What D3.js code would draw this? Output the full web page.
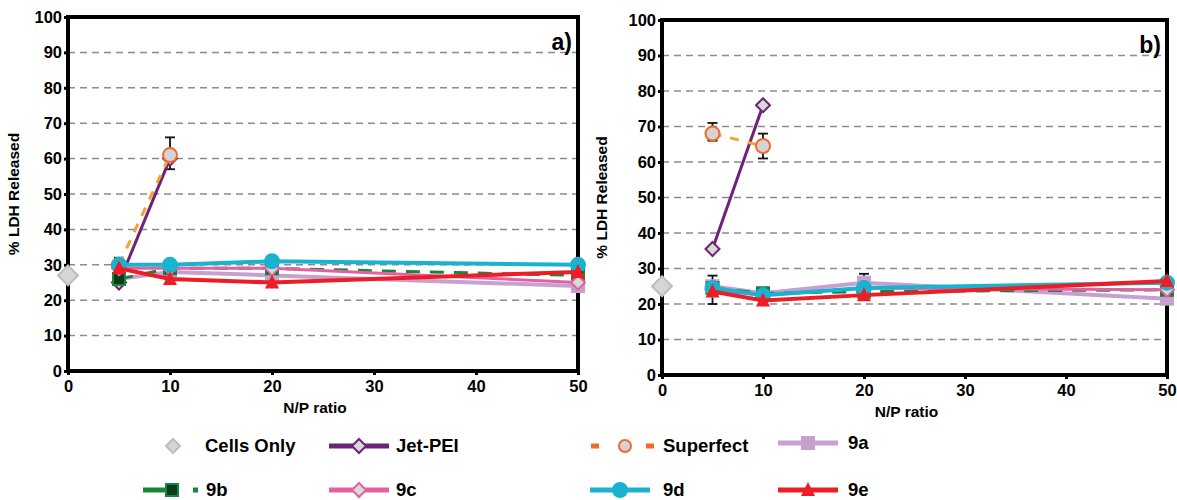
<!DOCTYPE html>
<html>
<head>
<meta charset="utf-8">
<script src="https://cdn.jsdelivr.net/npm/d3@7/dist/d3.min.js"></script>
<style>
  body { margin: 0; background: #fff; }
  text { font-family: "Liberation Sans", Arial, sans-serif; font-weight: bold; }
</style>
</head>
<body>
<svg id="chart" width="1177" height="500"></svg>
<script>
// x positions (N/P ratio)
var npAll = [5, 10, 20, 50];
var npShort = [5, 10];
var xTicks = [0, 10, 20, 30, 40, 50];
var yTicks = [0, 10, 20, 30, 40, 50, 60, 70, 80, 90, 100];

// panel a values (% LDH released)
var cellsA = 27;
var jetA = [25, 60];
var superA = [30, 61];
var s9aA = [26, 28, 27, 24];
var s9bA = [26, 29, 29, 27];
var s9cA = [29, 29, 29, 25];
var s9dA = [30, 30, 31, 30];
var s9eA = [29, 26, 25, 28];
var errA = [{x: 5, lo: 26, hi: 32}, {x: 10, lo: 57, hi: 66}];

// panel b values
var cellsB = 25;
var jetB = [35.5, 76];
var superB = [68, 64.5];
var s9aB = [25, 23, 26, 21.5];
var s9bB = [24.5, 23, 23.5, 24];
var s9cB = [24, 22.5, 24.5, 24];
var s9dB = [24.5, 22.5, 24.5, 26];
var s9eB = [23.5, 21, 22.5, 26.5];
var errB = [{x: 5, lo: 20, hi: 28}, {x: 20, lo: 24, hi: 28.5},
            {x: 5, lo: 66, hi: 71}, {x: 10, lo: 61, hi: 68}];

var styles = {
  cells: {color: "#bdbdbd", fill: "#d6d6d6", shape: "diamond"},
  jet:   {color: "#6e2277", fill: "#d9d9d9", shape: "diamond", width: 3},
  sup:   {color: "#f06a2a", fill: "#d4d4d4", shape: "circle", width: 3, dash: "9,9", line: "#f7a133"},
  a9:    {color: "#c7a0cf", fill: "#c7a0cf", shape: "square", width: 4},
  b9:    {color: "#16873a", fill: "#0c3a1c", shape: "square", width: 3, dash: "14,10"},
  c9:    {color: "#e5609f", fill: "#d9d9d9", shape: "diamond", width: 3},
  d9:    {color: "#1ab3cf", fill: "#1ab3cf", shape: "circle", width: 4},
  e9:    {color: "#ee1c25", fill: "#ee1c25", shape: "triangle", width: 4}
};

var svg = d3.select("#chart");

function marker(g, st, cx, cy, size) {
  var s = size || 7;
  if (st.shape === "diamond") {
    g.append("path").attr("d", "M" + cx + "," + (cy - s) + "L" + (cx + s) + "," + cy + "L" + cx + "," + (cy + s) + "L" + (cx - s) + "," + cy + "Z")
      .attr("fill", st.fill).attr("stroke", st.color).attr("stroke-width", 2);
  } else if (st.shape === "circle") {
    g.append("circle").attr("cx", cx).attr("cy", cy).attr("r", s)
      .attr("fill", st.fill).attr("stroke", st.color).attr("stroke-width", 2);
  } else if (st.shape === "square") {
    g.append("rect").attr("x", cx - s + 1).attr("y", cy - s + 1).attr("width", 2 * s - 2).attr("height", 2 * s - 2)
      .attr("fill", st.fill).attr("stroke", st.color).attr("stroke-width", 2);
  } else if (st.shape === "triangle") {
    g.append("path").attr("d", "M" + cx + "," + (cy - s - 1) + "L" + (cx + s) + "," + (cy + s - 1) + "L" + (cx - s) + "," + (cy + s - 1) + "Z")
      .attr("fill", st.fill);
  }
}

function panel(opt) {
  var x = d3.scaleLinear().domain([0, 50]).range([opt.left, opt.right]);
  var y = d3.scaleLinear().domain([0, 100]).range([opt.bottom, opt.top]);
  var g = svg.append("g");

  // dashed grid
  g.selectAll(".grid").data(yTicks.filter(function(d){ return d > 0 && d < 100; }))
    .enter().append("line")
    .attr("x1", opt.left).attr("x2", opt.right)
    .attr("y1", function(d){ return y(d); }).attr("y2", function(d){ return y(d); })
    .attr("stroke", "#8c8c8c").attr("stroke-width", 1.5).attr("stroke-dasharray", "7,5");

  // axes
  var yAxis = g.append("g").attr("transform", "translate(" + opt.left + ",0)")
    .call(d3.axisLeft(y).tickValues(yTicks).tickSize(4).tickPadding(2));
  var xAxis = g.append("g").attr("transform", "translate(0," + opt.bottom + ")")
    .call(d3.axisBottom(x).tickValues(xTicks).tickSize(4).tickPadding(5));
  [yAxis, xAxis].forEach(function(a){
    a.select(".domain").remove();
    a.selectAll(".tick line").attr("stroke", "#000").attr("stroke-width", 3);
    a.selectAll(".tick text").attr("font-size", 16.5).attr("fill", "#000")
      .style("font-family", "'Liberation Sans', Arial, sans-serif").style("font-weight", "bold");
  });

  // frame
  g.append("rect").attr("x", opt.left).attr("y", opt.top)
    .attr("width", opt.right - opt.left).attr("height", opt.bottom - opt.top)
    .attr("fill", "none").attr("stroke", "#000").attr("stroke-width", 4);

  // titles
  g.append("text").attr("x", (opt.left + opt.right) / 2 - 8).attr("y", opt.bottom + 42)
    .attr("text-anchor", "middle").attr("font-size", 15.5).text("N/P ratio");
  g.append("text").attr("transform", "translate(" + opt.ylab + "," + ((opt.top + opt.bottom) / 2) + ") rotate(-90)")
    .attr("text-anchor", "middle").attr("font-size", 15.5).text("% LDH Released");
  g.append("text").attr("x", opt.right - 6).attr("y", opt.top + 33)
    .attr("text-anchor", "end").attr("font-size", 23).text(opt.tag);

  var line = d3.line().x(function(d){ return x(d[0]); }).y(function(d){ return y(d[1]); });

  // error bars
  opt.err.forEach(function(e){
    var eg = g.append("g").attr("stroke", "#111").attr("stroke-width", 1.8);
    eg.append("line").attr("x1", x(e.x)).attr("x2", x(e.x)).attr("y1", y(e.lo)).attr("y2", y(e.hi));
    eg.append("line").attr("x1", x(e.x) - 5).attr("x2", x(e.x) + 5).attr("y1", y(e.lo)).attr("y2", y(e.lo));
    eg.append("line").attr("x1", x(e.x) - 5).attr("x2", x(e.x) + 5).attr("y1", y(e.hi)).attr("y2", y(e.hi));
  });

  opt.series.forEach(function(s){
    var st = styles[s.key];
    var pts = s.xs.map(function(v, i){ return [v, s.vals[i]]; });
    g.append("path").datum(pts).attr("d", line).attr("fill", "none")
      .attr("stroke", st.line || st.color).attr("stroke-width", st.width)
      .attr("stroke-dasharray", st.dash || null);
    pts.forEach(function(p){ marker(g, st, x(p[0]), y(p[1]), 7); });
  });

  // cells only marker at x = 0
  marker(g, styles.cells, x(0), y(opt.cells), 10);
}

panel({left: 68, right: 578, top: 17, bottom: 371, ylab: 19, tag: "a)", cells: cellsA, err: errA,
  series: [
    {key: "jet", xs: npShort, vals: jetA},
    {key: "sup", xs: npShort, vals: superA},
    {key: "a9", xs: npAll, vals: s9aA},
    {key: "b9", xs: npAll, vals: s9bA},
    {key: "c9", xs: npAll, vals: s9cA},
    {key: "d9", xs: npAll, vals: s9dA},
    {key: "e9", xs: npAll, vals: s9eA}
  ]});

panel({left: 662, right: 1167, top: 20, bottom: 375, ylab: 607, tag: "b)", cells: cellsB, err: errB,
  series: [
    {key: "jet", xs: npShort, vals: jetB},
    {key: "sup", xs: npShort, vals: superB},
    {key: "a9", xs: npAll, vals: s9aB},
    {key: "b9", xs: npAll, vals: s9bB},
    {key: "c9", xs: npAll, vals: s9cB},
    {key: "d9", xs: npAll, vals: s9dB},
    {key: "e9", xs: npAll, vals: s9eB}
  ]});

// legend
var legendItems = [
  {key: "cells", label: "Cells Only", lx: 173, tx: 205, ly: 446, noLine: true},
  {key: "jet", label: "Jet-PEI", lx: 329, tx: 396, ly: 446},
  {key: "sup", label: "Superfect", lx: 590, tx: 663, ly: 446},
  {key: "a9", label: "9a", lx: 778, tx: 848, ly: 443},
  {key: "b9", label: "9b", lx: 143, tx: 206, ly: 490},
  {key: "c9", label: "9c", lx: 329, tx: 396, ly: 490},
  {key: "d9", label: "9d", lx: 590, tx: 663, ly: 490},
  {key: "e9", label: "9e", lx: 778, tx: 848, ly: 490}
];
var lg = svg.append("g");
legendItems.forEach(function(it){
  var st = styles[it.key];
  var g = lg.append("g");
  if (it.noLine) {
    marker(g, st, it.lx, it.ly, 7);
  } else if (it.key === "sup") {
    [[591, 599], [646, 654]].forEach(function(s){
      g.append("line").attr("x1", s[0]).attr("x2", s[1]).attr("y1", it.ly).attr("y2", it.ly)
        .attr("stroke", st.color).attr("stroke-width", 5);
    });
    marker(g, st, 625, it.ly, 6);
  } else if (it.key === "b9") {
    g.append("line").attr("x1", 143).attr("x2", 170).attr("y1", it.ly).attr("y2", it.ly)
      .attr("stroke", st.color).attr("stroke-width", 5);
    g.append("line").attr("x1", 193).attr("x2", 198).attr("y1", it.ly).attr("y2", it.ly)
      .attr("stroke", st.color).attr("stroke-width", 5);
    marker(g, st, 172, it.ly, 7);
  } else {
    g.append("line").attr("x1", it.lx).attr("x2", it.lx + 60).attr("y1", it.ly).attr("y2", it.ly)
      .attr("stroke", st.color).attr("stroke-width", 5);
    marker(g, st, it.lx + 30, it.ly, 7);
  }
  g.append("text").attr("x", it.tx).attr("y", it.ly + 6).attr("font-size", 18.5).text(it.label);
});
</script>
</body>
</html>
